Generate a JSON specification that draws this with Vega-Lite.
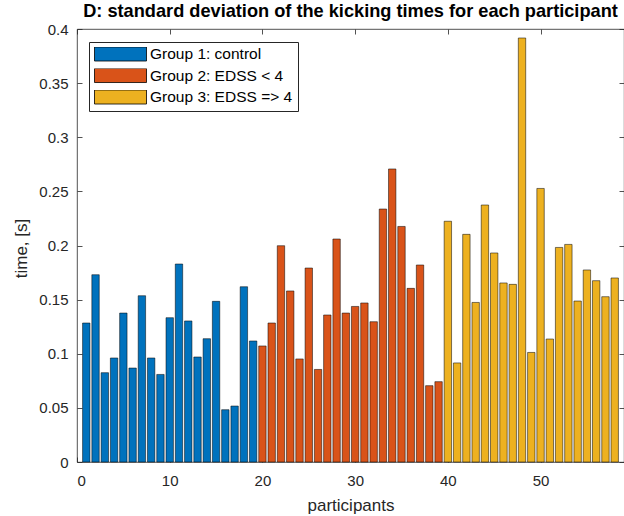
{
  "$schema": "https://vega.github.io/schema/vega-lite/v6.json",
  "autosize": "none",
  "width": 547,
  "height": 433,
  "padding": {"left": 77, "top": 29, "right": 0, "bottom": 54},
  "background": "white",
  "config": {
    "font": "Liberation Sans",
    "view": {"stroke": "#262626", "strokeWidth": 0.8},
    "axis": {
      "domain": false,
      "grid": false,
      "tickColor": "#262626",
      "tickSize": -5,
      "tickWidth": 0.8,
      "labelColor": "#262626",
      "labelFont": "Liberation Sans",
      "labelFontSize": 15,
      "titleColor": "#262626",
      "titleFont": "Liberation Sans",
      "titleFontSize": 17,
      "titleFontWeight": "normal"
    }
  },
  "title": {
    "text": "D: standard deviation of the kicking times for each participant",
    "font": "Liberation Sans",
    "fontSize": 18.2,
    "fontWeight": "bold",
    "color": "#000000",
    "anchor": "middle",
    "frame": "group",
    "baseline": "alphabetic",
    "offset": 7,
    "dy": 20
  },
  "data": {
    "values": [
      {"participant": 1, "sd": 0.1284, "group": "Group 1: control"},
      {"participant": 2, "sd": 0.1730, "group": "Group 1: control"},
      {"participant": 3, "sd": 0.0825, "group": "Group 1: control"},
      {"participant": 4, "sd": 0.0961, "group": "Group 1: control"},
      {"participant": 5, "sd": 0.1376, "group": "Group 1: control"},
      {"participant": 6, "sd": 0.0868, "group": "Group 1: control"},
      {"participant": 7, "sd": 0.1536, "group": "Group 1: control"},
      {"participant": 8, "sd": 0.0961, "group": "Group 1: control"},
      {"participant": 9, "sd": 0.0809, "group": "Group 1: control"},
      {"participant": 10, "sd": 0.1333, "group": "Group 1: control"},
      {"participant": 11, "sd": 0.1829, "group": "Group 1: control"},
      {"participant": 12, "sd": 0.1303, "group": "Group 1: control"},
      {"participant": 13, "sd": 0.0970, "group": "Group 1: control"},
      {"participant": 14, "sd": 0.1139, "group": "Group 1: control"},
      {"participant": 15, "sd": 0.1484, "group": "Group 1: control"},
      {"participant": 16, "sd": 0.0483, "group": "Group 1: control"},
      {"participant": 17, "sd": 0.0517, "group": "Group 1: control"},
      {"participant": 18, "sd": 0.1619, "group": "Group 1: control"},
      {"participant": 19, "sd": 0.1118, "group": "Group 1: control"},
      {"participant": 20, "sd": 0.1072, "group": "Group 2: EDSS < 4"},
      {"participant": 21, "sd": 0.1284, "group": "Group 2: EDSS < 4"},
      {"participant": 22, "sd": 0.1998, "group": "Group 2: EDSS < 4"},
      {"participant": 23, "sd": 0.1580, "group": "Group 2: EDSS < 4"},
      {"participant": 24, "sd": 0.0952, "group": "Group 2: EDSS < 4"},
      {"participant": 25, "sd": 0.1792, "group": "Group 2: EDSS < 4"},
      {"participant": 26, "sd": 0.0855, "group": "Group 2: EDSS < 4"},
      {"participant": 27, "sd": 0.1358, "group": "Group 2: EDSS < 4"},
      {"participant": 28, "sd": 0.2060, "group": "Group 2: EDSS < 4"},
      {"participant": 29, "sd": 0.1376, "group": "Group 2: EDSS < 4"},
      {"participant": 30, "sd": 0.1437, "group": "Group 2: EDSS < 4"},
      {"participant": 31, "sd": 0.1469, "group": "Group 2: EDSS < 4"},
      {"participant": 32, "sd": 0.1296, "group": "Group 2: EDSS < 4"},
      {"participant": 33, "sd": 0.2337, "group": "Group 2: EDSS < 4"},
      {"participant": 34, "sd": 0.2707, "group": "Group 2: EDSS < 4"},
      {"participant": 35, "sd": 0.2176, "group": "Group 2: EDSS < 4"},
      {"participant": 36, "sd": 0.1604, "group": "Group 2: EDSS < 4"},
      {"participant": 37, "sd": 0.1820, "group": "Group 2: EDSS < 4"},
      {"participant": 38, "sd": 0.0705, "group": "Group 2: EDSS < 4"},
      {"participant": 39, "sd": 0.0742, "group": "Group 2: EDSS < 4"},
      {"participant": 40, "sd": 0.2224, "group": "Group 3: EDSS => 4"},
      {"participant": 41, "sd": 0.0915, "group": "Group 3: EDSS => 4"},
      {"participant": 42, "sd": 0.2103, "group": "Group 3: EDSS => 4"},
      {"participant": 43, "sd": 0.1474, "group": "Group 3: EDSS => 4"},
      {"participant": 44, "sd": 0.2374, "group": "Group 3: EDSS => 4"},
      {"participant": 45, "sd": 0.1931, "group": "Group 3: EDSS => 4"},
      {"participant": 46, "sd": 0.1654, "group": "Group 3: EDSS => 4"},
      {"participant": 47, "sd": 0.1641, "group": "Group 3: EDSS => 4"},
      {"participant": 48, "sd": 0.3917, "group": "Group 3: EDSS => 4"},
      {"participant": 49, "sd": 0.1012, "group": "Group 3: EDSS => 4"},
      {"participant": 50, "sd": 0.2527, "group": "Group 3: EDSS => 4"},
      {"participant": 51, "sd": 0.1136, "group": "Group 3: EDSS => 4"},
      {"participant": 52, "sd": 0.1982, "group": "Group 3: EDSS => 4"},
      {"participant": 53, "sd": 0.2010, "group": "Group 3: EDSS => 4"},
      {"participant": 54, "sd": 0.1487, "group": "Group 3: EDSS => 4"},
      {"participant": 55, "sd": 0.1774, "group": "Group 3: EDSS => 4"},
      {"participant": 56, "sd": 0.1675, "group": "Group 3: EDSS => 4"},
      {"participant": 57, "sd": 0.1527, "group": "Group 3: EDSS => 4"},
      {"participant": 58, "sd": 0.1700, "group": "Group 3: EDSS => 4"}
    ]
  },
  "layer": [
    {
      "mark": {"type": "bar", "width": 7.4, "stroke": "#000000", "strokeWidth": 0.6, "strokeOpacity": 0.85},
      "encoding": {
        "x": {
          "field": "participant",
          "type": "quantitative",
          "scale": {"domain": [0, 59], "nice": false, "zero": false, "padding": 0},
          "axis": {"orient": "bottom", "values": [0, 10, 20, 30, 40, 50], "title": "participants", "labelPadding": 16, "titleY": 35},
          "title": "participants"
        },
        "y": {
          "field": "sd",
          "type": "quantitative",
          "scale": {"domain": [0, 0.4], "nice": false, "padding": 0},
          "axis": {"orient": "left", "values": [0, 0.05, 0.1, 0.15, 0.2, 0.25, 0.3, 0.35, 0.4], "format": "~g", "title": "time, [s]", "labelPadding": 14, "titleX": -47, "titleY": 219},
          "title": "time, [s]"
        },
        "fill": {
          "field": "group",
          "type": "nominal",
          "scale": {
            "domain": ["Group 1: control", "Group 2: EDSS < 4", "Group 3: EDSS => 4"],
            "range": ["#0072BD", "#D95319", "#EDB120"]
          },
          "legend": {
            "title": null,
            "orient": "none",
            "legendX": 12,
            "legendY": 13,
            "padding": 5,
            "fillColor": "#ffffff",
            "strokeColor": "#262626",
            "symbolType": "M-1,-0.27H1V0.27H-1Z",
            "symbolSize": 2704,
            "clipHeight": 14,
            "symbolStrokeColor": "#000000",
            "symbolStrokeWidth": 0.8,
            "symbolOpacity": 1,
            "labelFont": "Liberation Sans",
            "labelFontSize": 15.5,
            "labelColor": "#000000",
            "labelOffset": 3,
            "rowPadding": 5.5,
            "labelLimit": 300
          }
        }
      }
    },
    {
      "mark": {"type": "bar", "width": 7.4, "opacity": 0},
      "encoding": {
        "x": {
          "field": "participant",
          "type": "quantitative",
          "axis": {"orient": "top", "values": [0, 10, 20, 30, 40, 50], "labels": false, "title": null}
        },
        "y": {
          "field": "sd",
          "type": "quantitative",
          "axis": {"orient": "right", "values": [0, 0.05, 0.1, 0.15, 0.2, 0.25, 0.3, 0.35, 0.4], "labels": false, "title": null}
        }
      }
    }
  ],
  "resolve": {"axis": {"x": "independent", "y": "independent"}}
}
